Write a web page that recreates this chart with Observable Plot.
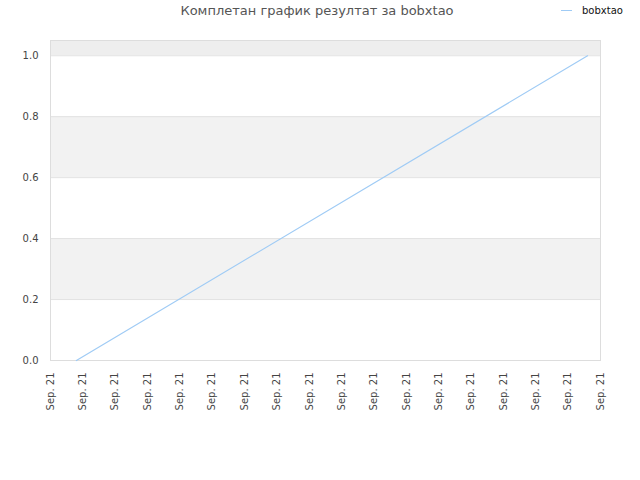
<!DOCTYPE html>
<html>
<head>
<meta charset="utf-8">
<script src="https://cdn.jsdelivr.net/npm/d3@7"></script>
<script src="https://cdn.jsdelivr.net/npm/@observablehq/plot@0.6"></script>
<style>
  body { margin: 0; background: #fff; font-family: "DejaVu Sans", sans-serif; }
  #wrap { position: relative; width: 640px; height: 480px; }
  #title { position: absolute; left: 0; width: 640px; top: 3px; text-align: center; font-size: 13px; color: #555; padding-right: 6px; box-sizing: border-box; }
  #legend { position: absolute; left: 561px; top: 5px; font-size: 10px; color: #111; display: flex; align-items: center; }
  #legend .sw { width: 11px; height: 0; border-top: 1.5px solid #9fcbf5; margin-right: 10px; }
</style>
</head>
<body>
<div id="wrap">
  <div id="title">Комплетан график резултат за bobxtao</div>
  <div id="legend"><span class="sw"></span><span id="legname"></span></div>
</div>
<script>
const seriesName = "bobxtao";
const xTicks = [0, 1, 2, 3, 4, 5, 6, 7, 8, 9, 10, 11, 12, 13, 14, 15, 16, 17];
const xTickLabels = ["Sep. 21", "Sep. 21", "Sep. 21", "Sep. 21", "Sep. 21", "Sep. 21", "Sep. 21", "Sep. 21", "Sep. 21", "Sep. 21", "Sep. 21", "Sep. 21", "Sep. 21", "Sep. 21", "Sep. 21", "Sep. 21", "Sep. 21", "Sep. 21"];
const times = [0.8, 16.6];
const values = [0, 1];
const yTicks = [0, 0.2, 0.4, 0.6, 0.8, 1.0];
const bandLo = [0.2, 0.6, 1.0];
const bandHi = [0.4, 0.8, 1.05];
const bandFill = ["#f2f2f2", "#f2f2f2", "#eeeeee"];

document.getElementById("legname").textContent = seriesName;

const points = times.map((t, i) => ({x: t, y: values[i]}));
const bands = bandLo.map((lo, i) => ({lo, hi: bandHi[i], fill: bandFill[i]}));

const chart = Plot.plot({
  width: 640,
  height: 480,
  marginLeft: 50,
  marginRight: 40,
  marginTop: 40,
  marginBottom: 120,
  style: {fontFamily: "DejaVu Sans, sans-serif", fontSize: "10px", color: "#444", background: "transparent"},
  x: {domain: [0, 17], label: null},
  y: {domain: [0, 1.05], label: null},
  marks: [
    Plot.rect(bands, {y1: "lo", y2: "hi", fill: "fill"}),
    Plot.ruleY(yTicks, {stroke: "#e2e2e2"}),
    Plot.frame({stroke: "#dddddd"}),
    Plot.axisY({ticks: yTicks, tickFormat: d => d.toFixed(1), tickSize: 0, tickPadding: 12, fontSize: 10, label: null}),
    Plot.axisX({ticks: xTicks, tickFormat: i => xTickLabels[i], tickRotate: -90, tickSize: 0, tickPadding: 12, fontSize: 10, label: null}),
    Plot.line(points, {x: "x", y: "y", stroke: "#9fcbf5", strokeWidth: 1.2})
  ]
});
chart.style.position = "absolute";
chart.style.left = "0";
chart.style.top = "0";
document.getElementById("wrap").appendChild(chart);
</script>
</body>
</html>
